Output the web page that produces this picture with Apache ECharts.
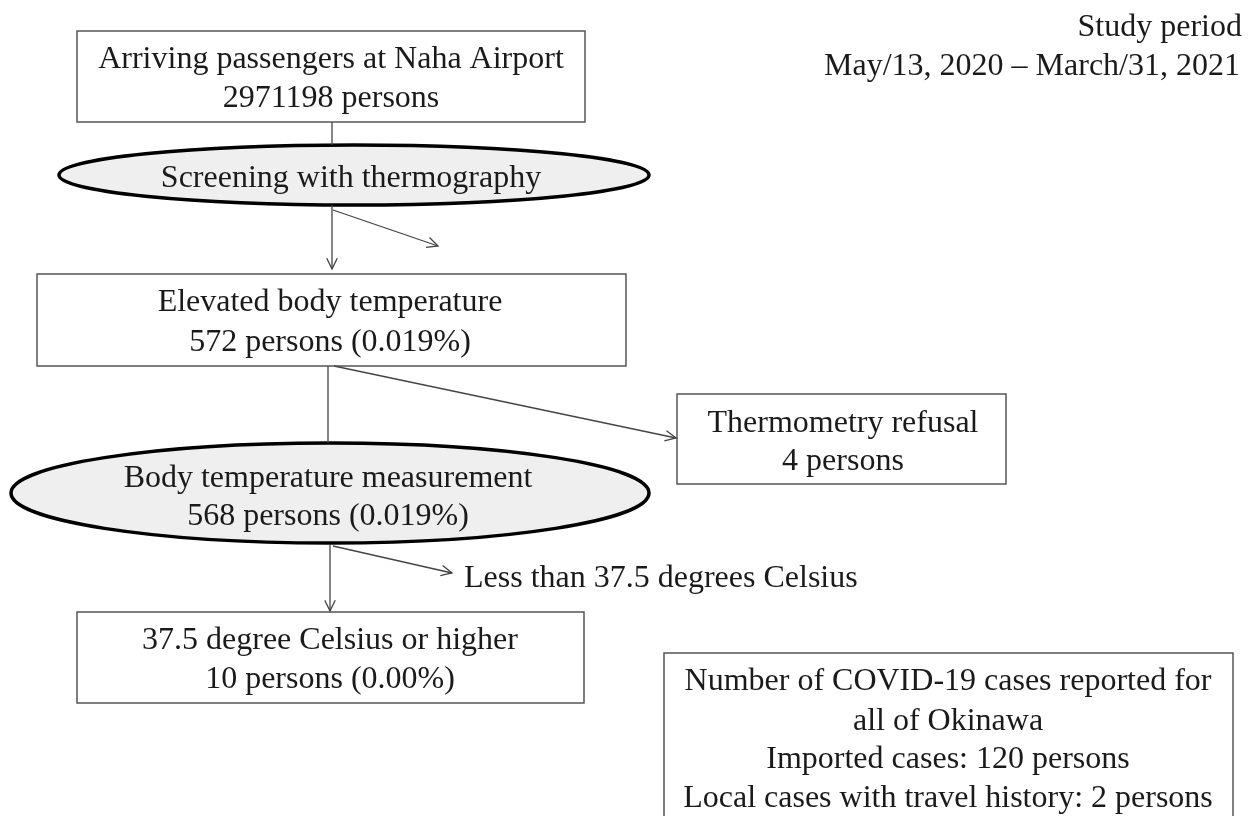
<html>
<head>
    <meta charset="utf-8">
    <title>Naha Airport thermography screening flow</title>
    <script src="https://cdn.jsdelivr.net/npm/echarts@6/dist/echarts.min.js"></script>
</head>
<body style="margin:0;background:#fff;">
<div id="main" style="width:1248px;height:816px;"></div>
<script type="text/javascript">
    // flow steps (text + counts)
    var stepNames = ['Arriving passengers at Naha Airport', 'Screening with thermography', 'Elevated body temperature',
        'Thermometry refusal', 'Body temperature measurement', 'Less than 37.5 degrees Celsius', '37.5 degree Celsius or higher'];
    var stepCounts = [2971198, null, 572, 4, 568, null, 10];
    var stepPercents = [null, null, '0.019%', null, '0.019%', null, '0.00%'];
    var periodLines = ['Study period', 'May/13, 2020 \u2013 March/31, 2021'];
    var okinawaTitle = ['Number of COVID-19 cases reported for', 'all of Okinawa'];
    var caseNames = ['Imported cases', 'Local cases with travel history'];
    var caseCounts = [120, 2];

    // layout of the shapes: [x, y, w, h] for boxes, [cx, cy, rx, ry] for ellipses
    var shapeKind = ['box', 'ellipse', 'box', 'box', 'ellipse', 'none', 'box'];
    var shapeGeom = [[77, 31, 508, 91], [354, 175, 295, 30], [37, 274, 589, 92], [677, 394, 329, 90],
        [330, 493, 319, 50], null, [77, 612, 507, 91]];
    var textPos = [[331, 60, 99], [351, 179], [330, 303, 343], [843, 424, 462], [328, 479, 517], [464, 579], [330, 641, 680]];
    // connectors: [x1, y1, x2, y2, hasHead]
    var links = [[332, 122, 332, 145, 0], [332, 205, 332, 269, 1], [333, 210, 438, 246, 1], [328, 366, 328, 443, 0],
        [334, 366, 676, 438, 1], [330, 545, 330, 611, 1], [333, 546, 452, 573, 1]];

    var FONT = '32px "Liberation Serif", "Times New Roman", serif';
    var TXT = '#1a1a1a';

    function label(str, x, y, align) {
        return {
            type: 'text', x: x, y: y, z: 10,
            style: { text: str, font: FONT, fill: TXT, align: align || 'center', verticalAlign: 'middle',
                textAlign: align || 'center', textVerticalAlign: 'middle' }
        };
    }

    var els = [];
    shapeKind.forEach(function (k, i) {
        var g = shapeGeom[i];
        if (k === 'box') {
            els.push({ type: 'rect', shape: { x: g[0], y: g[1], width: g[2], height: g[3] },
                style: { fill: '#fff', stroke: '#555', lineWidth: 1.5 } });
        } else if (k === 'ellipse') {
            els.push({ type: 'ellipse', shape: { cx: g[0], cy: g[1], rx: g[2], ry: g[3] },
                style: { fill: '#efefef', stroke: '#000', lineWidth: 3.5 } });
        }
        var t = textPos[i];
        var first = stepNames[i];
        if (stepCounts[i] === null) {
            els.push(label(first, t[0], t[1], i === 5 ? 'left' : 'center'));
        } else {
            var second = stepCounts[i] + ' persons' + (stepPercents[i] ? ' (' + stepPercents[i] + ')' : '');
            els.push(label(first, t[0], t[1]));
            els.push(label(second, t[0], t[2]));
        }
    });

    links.forEach(function (l) {
        els.push({ type: 'line', shape: { x1: l[0], y1: l[1], x2: l[2], y2: l[3] },
            style: { stroke: '#444', lineWidth: 1.3 } });
        if (l[4]) {
            var ang = Math.atan2(l[3] - l[1], l[2] - l[0]);
            var len = 12, spread = 0.45;
            els.push({ type: 'polyline', shape: { points: [
                [l[2] - len * Math.cos(ang - spread), l[3] - len * Math.sin(ang - spread)],
                [l[2], l[3]],
                [l[2] - len * Math.cos(ang + spread), l[3] - len * Math.sin(ang + spread)]
            ] }, style: { stroke: '#444', lineWidth: 1.3, fill: null } });
        }
    });

    // study period, top right
    els.push(label(periodLines[0], 1242, 28, 'right'));
    els.push(label(periodLines[1], 1240, 67, 'right'));

    // Okinawa case box (runs off the bottom)
    els.push({ type: 'rect', shape: { x: 664, y: 653, width: 569, height: 200 },
        style: { fill: '#fff', stroke: '#555', lineWidth: 1.5 } });
    var caseLines = okinawaTitle.concat(caseNames.map(function (n, i) {
        return n + ': ' + caseCounts[i] + ' persons';
    }));
    var caseY = [682, 722, 760, 799];
    caseLines.forEach(function (s, i) { els.push(label(s, 948, caseY[i])); });

    var myChart = echarts.init(document.getElementById('main'));
    myChart.setOption({
        backgroundColor: '#fff',
        animation: false,
        graphic: { elements: els }
    });
</script>
</body>
</html>
